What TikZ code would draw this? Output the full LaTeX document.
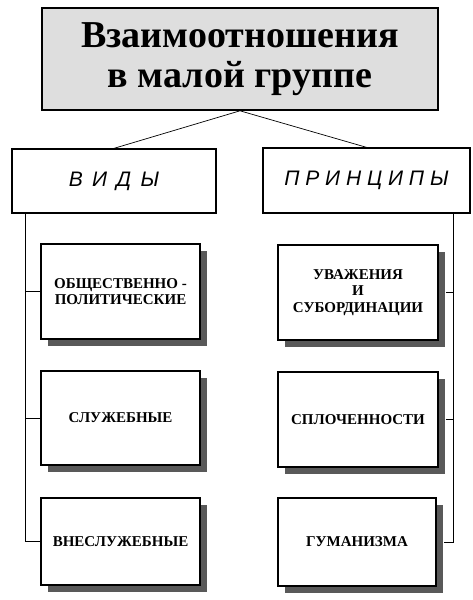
\documentclass[tikz,border=0pt]{standalone}
\usepackage{fontspec}
\setmainfont{Liberation Serif}
\newfontfamily\sansit{Liberation Sans}
\usetikzlibrary{shadows,calc}
\tikzset{
  titlebox/.style={draw, line width=1.6pt, fill=black!13, rectangle, align=center, inner sep=0pt,
    font=\fontsize{38}{40}\selectfont\bfseries},
  headbox/.style={draw, line width=1.3pt, fill=white, rectangle, inner sep=0pt,
    font=\fontsize{21}{24}\selectfont\sansit\itshape},
  itembox/.style={draw, line width=1.6pt, fill=white, rectangle, align=center, inner sep=0pt,
    minimum width=159pt, font=\fontsize{15}{16.5}\selectfont\bfseries,
    drop shadow={shadow xshift=7pt, shadow yshift=-7pt, fill=black!65, opacity=1}},
  link/.style={line width=0.7pt}
}
\begin{document}
\begin{tikzpicture}[x=1pt,y=-1pt]
\useasboundingbox (0,0) rectangle (472,600);
\node[titlebox, minimum width=396pt, minimum height=102pt] (title) at (240,59) {Взаимоотношения\\в малой группе};
\node[headbox, minimum width=204pt, minimum height=64pt] (vid) at (114,181) {\raisebox{3pt}{В\ \,И\ \,Д\ \,Ы}};
\node[headbox, minimum width=207pt, minimum height=65pt] (pr) at (366.5,180.5) {\raisebox{3pt}{П Р И Н Ц И П Ы}};

\node[itembox, minimum height=95pt] (l1) at (120.5,291.5) {ОБЩЕСТВЕННО -\\ПОЛИТИЧЕСКИЕ};
\node[itembox, minimum height=94pt] (l2) at (120.5,418) {СЛУЖЕБНЫЕ};
\node[itembox, minimum height=87pt] (l3) at (120.5,541.5) {ВНЕСЛУЖЕБНЫЕ};

\node[itembox, minimum width=160pt, minimum height=95pt] (r1) at (358,292.5) {УВАЖЕНИЯ\\И\\СУБОРДИНАЦИИ};
\node[itembox, minimum width=160pt, minimum height=95pt] (r2) at (358,419.5) {СПЛОЧЕННОСТИ};
\node[itembox, minimum width=158pt, minimum height=88pt] (r3) at (357,542) {ГУМАНИЗМА};

\draw[link] (title.south) -- (vid.north);
\draw[link] (title.south) -- (pr.north);

\coordinate (ls) at (25,213);
\coordinate (rs) at (453,213);
\draw[link] (ls) |- (l3.west);
\draw[link] (l1.west) -- (l1.west -| ls);
\draw[link] (l2.west) -- (l2.west -| ls);

\draw[link] (rs) |- ($(r3.east)+(7,0)$);
\draw[link] ($(r1.east)+(7,0)$) -- (r1.east -| rs);
\draw[link] ($(r2.east)+(7,0)$) -- (r2.east -| rs);
\end{tikzpicture}
\end{document}
